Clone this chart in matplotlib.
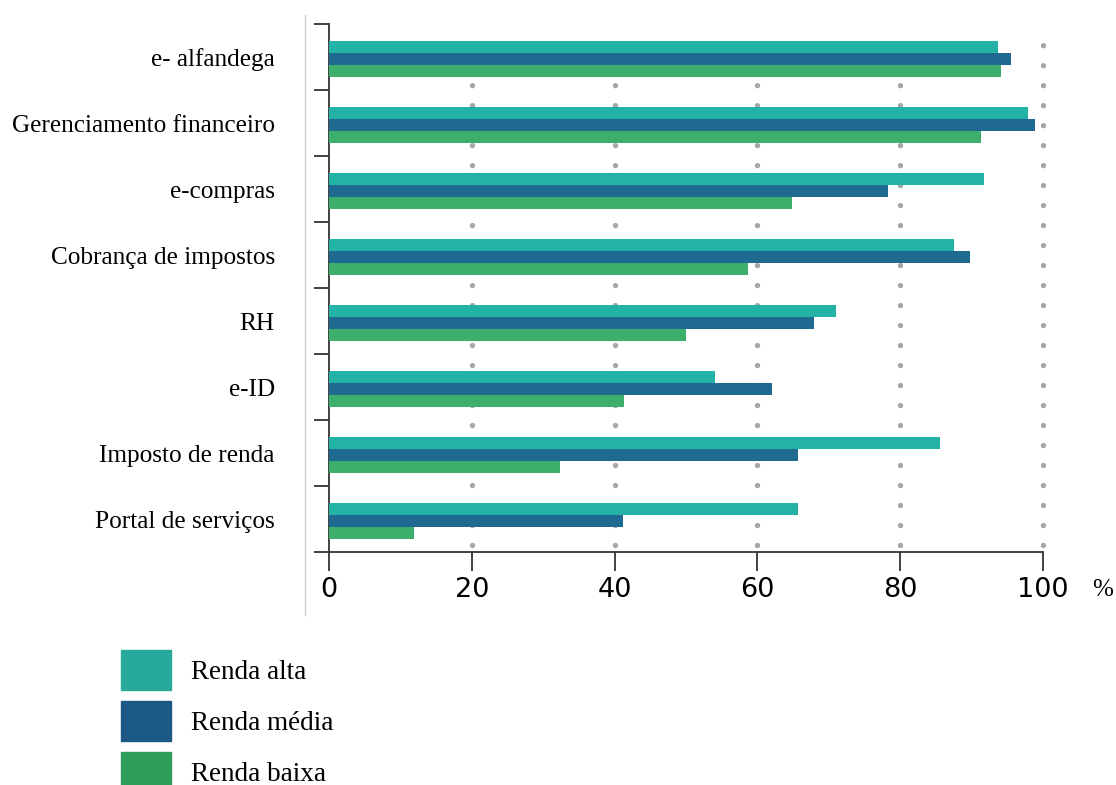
import numpy as np
import matplotlib.pyplot as plt
from matplotlib.patches import Patch
from matplotlib.lines import Line2D

# Data (top to bottom, %)
categories = ['e- alfandega', 'Gerenciamento financeiro', 'e-compras',
              'Cobrança de impostos', 'RH', 'e-ID', 'Imposto de renda',
              'Portal de serviços']
renda_alta = [93.7, 97.9, 91.7, 87.5, 71.0, 54.1, 85.6, 65.7]
renda_media = [95.5, 98.9, 78.3, 89.8, 67.9, 62.0, 65.7, 41.2]
renda_baixa = [94.1, 91.3, 64.8, 58.7, 50.0, 41.3, 32.4, 11.9]
series_names = ['Renda alta', 'Renda média', 'Renda baixa']
xticks = [0, 20, 40, 60, 80, 100]

bar_colors = ['#24b2a6', '#1f6a91', '#3caf6c']
legend_colors = ['#27aa9c', '#1b5883', '#2f9e5a']
serif = 'Liberation Serif'

fig = plt.figure(figsize=(11.16, 7.85), dpi=100)
ax = fig.add_axes([0.2948, 0.2968, 0.6398, 0.6726])

y = np.arange(len(categories))
h = 0.18
shift = 0.03
for vals, off, col in zip([renda_alta, renda_media, renda_baixa], [-h, 0, h], bar_colors):
    ax.barh(y + off + shift, vals, height=h, color=col, zorder=3)

ax.set_xlim(0, 100)
ax.set_ylim(len(categories) - 0.5, -0.5)

# dotted vertical gridlines
for x in xticks[1:]:
    ax.axvline(x, ymin=0, ymax=0.966, color='#a6a6a6', lw=3.9, zorder=1,
               linestyle=(2.4, (0.001, 3.69)), dash_capstyle='round', clip_on=False)

for s in ['top', 'right']:
    ax.spines[s].set_visible(False)
for s in ['left', 'bottom']:
    ax.spines[s].set_color('#333333')
    ax.spines[s].set_linewidth(1.3)

ax.set_yticks(np.arange(len(categories) + 1) - 0.5)
ax.set_yticklabels([])
ax.tick_params(axis='y', which='major', length=11, width=1.3, color='#333333')
ax.set_yticks(y, minor=True)
ax.set_yticklabels(categories, minor=True, fontfamily=serif, fontsize=18.2)
ax.tick_params(axis='y', which='minor', length=0, pad=39)

ax.set_xticks(xticks)
ax.set_xticklabels([str(t) for t in xticks], fontfamily='DejaVu Sans', fontsize=19.5)
ax.tick_params(axis='x', length=14, width=1.3, color='#333333', pad=4)

fig.text(0.979, 0.248, '%', fontfamily=serif, fontsize=18, ha='left', va='center')

# light vertical rule on the left
fig.add_artist(Line2D([0.2733, 0.2733], [0.216, 0.981], color='#cccccc', lw=1,
                      transform=fig.transFigure))

handles = [Patch(color=c) for c in legend_colors]
fig.legend(handles, series_names, loc='upper left', bbox_to_anchor=(0.1084, 0.172),
           frameon=False, prop={'family': serif, 'size': 19.5},
           handlelength=1.85, handleheight=1.9, labelspacing=0.41,
           handletextpad=0.74, borderaxespad=0, borderpad=0)

fig.savefig('out.png', dpi=100)
